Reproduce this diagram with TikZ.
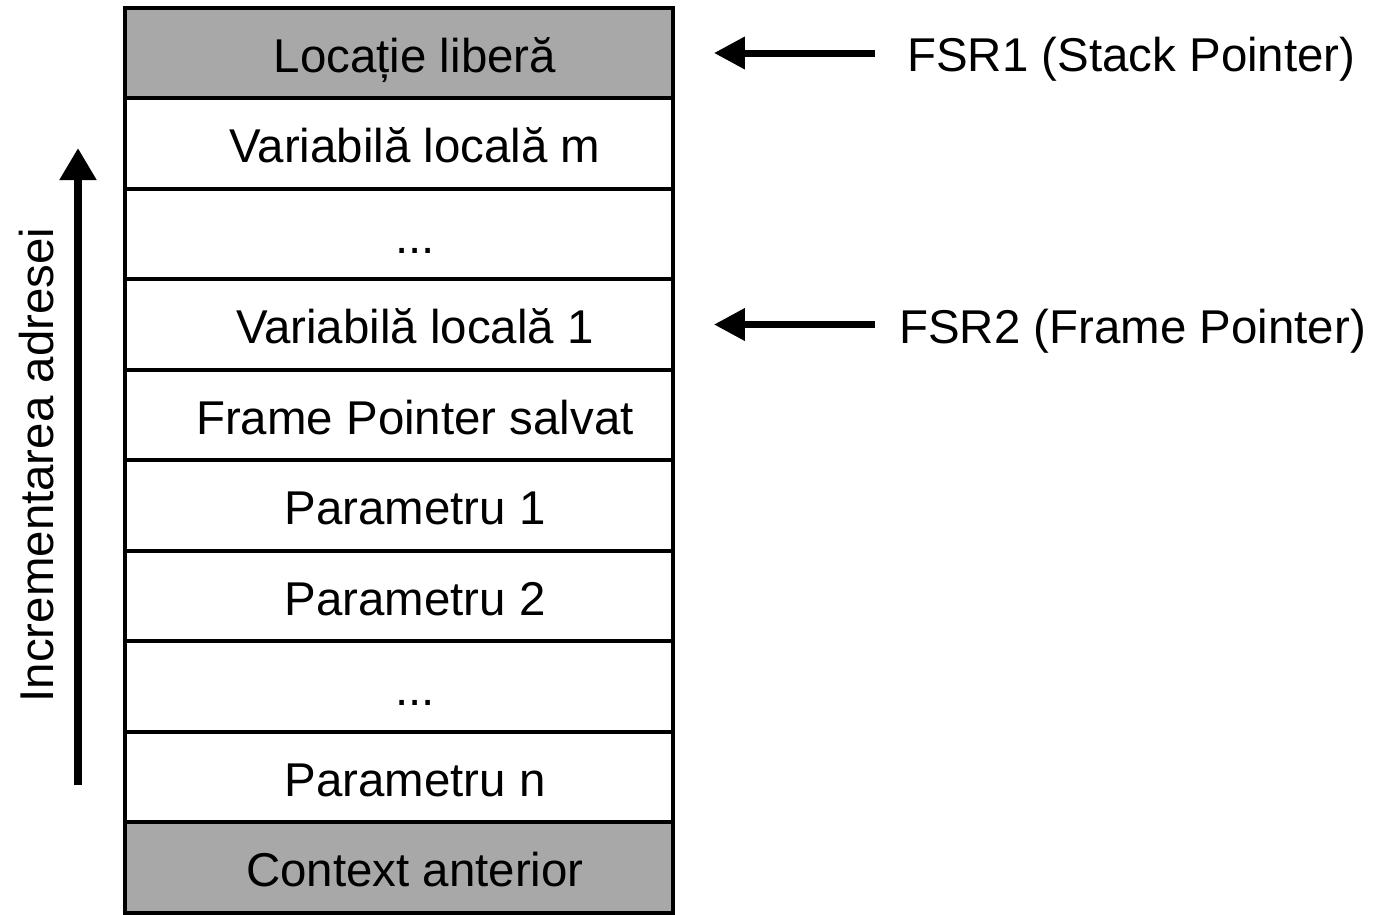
\documentclass[tikz,border=0pt]{standalone}
\usepackage{fontspec}
\setmainfont{Liberation Sans}
\usetikzlibrary{arrows.meta}
\definecolor{cellgray}{RGB}{168,168,168}

\begin{document}
\begin{tikzpicture}[x=0.02cm, y=-0.02cm,
	cell/.style={draw, line width=0.08cm, minimum width=10.96cm, minimum height=1.81cm, inner sep=0pt},
	celltext/.style={inner sep=0pt, text height=0.68cm, text depth=0pt, font=\fontsize{27}{32}\selectfont},
	ptr/.style={line width=0.14cm, -{Triangle[length=0.62cm, width=0.62cm]}}]
		%%%%% START %%%%%
		
		\useasboundingbox (0, 0) rectangle (1377, 914);
		
		\foreach \i/\txt/\fc in {0/{Locație liberă}/cellgray, 1/{Variabilă locală m}/white, 2/{...}/white,
			3/{Variabilă locală 1}/white, 4/{Frame Pointer salvat}/white, 5/{Parametru 1}/white,
			6/{Parametru 2}/white, 7/{...}/white, 8/{Parametru n}/white, 9/{Context anterior}/cellgray}
		{
			\node[cell, fill=\fc] (r\i) at (399, {53+90.5*\i}) {};
			\node[celltext] (t\i) at (415, {55+90.5*\i}) {\txt};
		}
		
		\node[celltext, anchor=west] (fsr1) at (907, 54) {FSR1 (Stack Pointer)};
		\node[celltext, anchor=west] (fsr2) at (899, 326) {FSR2 (Frame Pointer)};
		
		\coordinate (sp) at ([xshift=0.78cm]r0.east);
		\coordinate (fp) at ([xshift=0.78cm]r3.east);
		\draw[ptr] ([xshift=-0.64cm]fsr1.west |- r0.east) -- (sp);
		\draw[ptr] ([xshift=-0.48cm]fsr2.west |- r3.east) -- (fp);
		
		\coordinate (low) at (78, 785);
		\coordinate (high) at (78, 148);
		\draw[line width=0.16cm, -{Triangle[length=0.64cm, width=0.7cm]}] (low) -- (high);
		\node[celltext, rotate=90] (incr) at (37, 465) {Incrementarea adresei};
		
		%%%%% END %%%%%
\end{tikzpicture}
\end{document}
